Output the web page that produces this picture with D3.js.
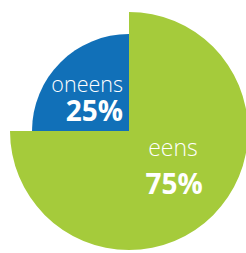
<!DOCTYPE html>
<html>
<head>
<meta charset="utf-8">
<script src="https://cdn.jsdelivr.net/npm/d3@7"></script>
<style>
  body { margin: 0; background: #fff; }
  svg { display: block; }
</style>
</head>
<body>
<svg width="246" height="253"></svg>
<script>
const categories = ['eens', 'oneens'];
const values = [75, 25];
const labels = ['75%', '25%'];

const svg = d3.select('svg');
const width = +svg.attr('width');
const height = +svg.attr('height');

const cx = 129, cy = 131;
const colors = { eens: '#a5cb3b', oneens: '#1170b8' };
const radius = { eens: 119, oneens: 97 };

const data = categories.map((c, i) => ({ name: c, value: values[i], label: labels[i] }));

const pie = d3.pie().sort(null).value(d => d.value);
const arcs = pie(data);

const g = svg.append('g')
    .attr('transform', `translate(${cx}, ${cy})`);

g.selectAll('path').data(arcs)
    .enter().append('path')
    .attr('d', d => d3.arc().innerRadius(0).outerRadius(radius[d.data.name])(d))
    .attr('fill', d => colors[d.data.name]);

// labels
const eens = arcs[0], oneens = arcs[1];

g.append('text')
    .attr('x', 44).attr('y', 25)
    .attr('text-anchor', 'middle')
    .attr('font-family', 'Open Sans')
    .attr('font-weight', 300)
    .attr('font-size', 23)
    .attr('fill', '#fff')
    .text(eens.data.name);

g.append('text')
    .attr('x', 45).attr('y', 63)
    .attr('text-anchor', 'middle')
    .attr('font-family', 'Open Sans')
    .attr('font-weight', 700)
    .attr('font-size', 28)
    .attr('fill', '#fff')
    .text(eens.data.label);

g.append('text')
    .attr('x', -6).attr('y', -39)
    .attr('text-anchor', 'end')
    .attr('font-family', 'Open Sans')
    .attr('font-weight', 300)
    .attr('font-size', 21.5)
    .attr('fill', '#fff')
    .text(oneens.data.name);

g.append('text')
    .attr('x', -6).attr('y', -10)
    .attr('text-anchor', 'end')
    .attr('font-family', 'Open Sans')
    .attr('font-weight', 700)
    .attr('font-size', 28)
    .attr('fill', '#fff')
    .text(oneens.data.label);
</script>
</body>
</html>
